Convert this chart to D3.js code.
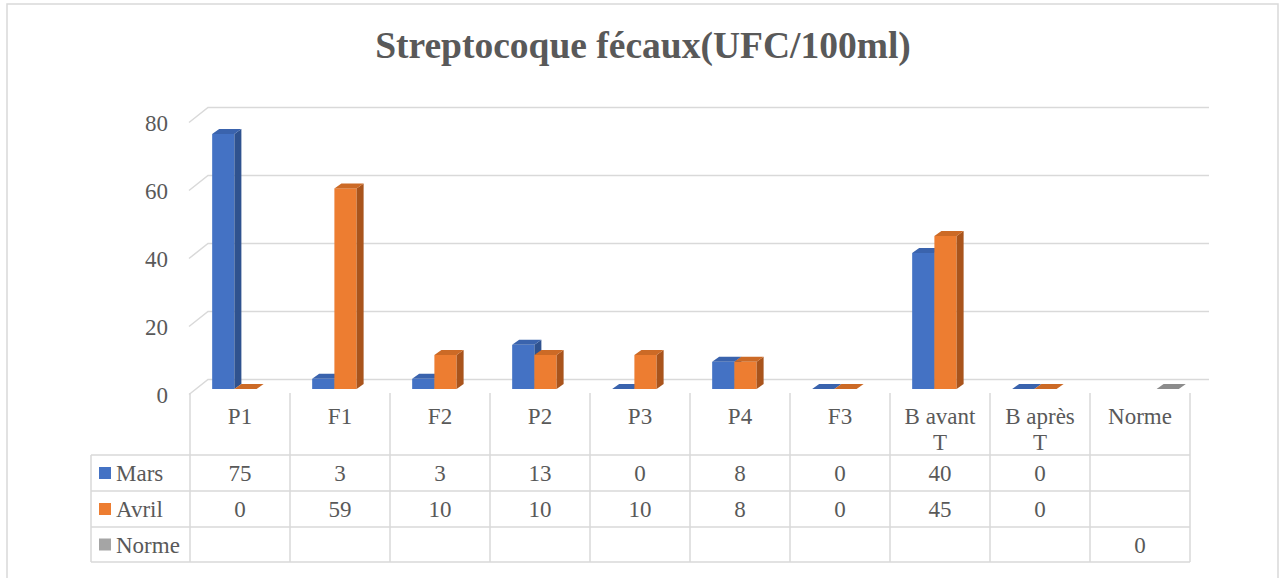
<!DOCTYPE html>
<html>
<head>
<meta charset="utf-8">
<script src="https://cdn.jsdelivr.net/npm/d3@7"></script>
<style>
  html, body { margin: 0; padding: 0; background: #fff; }
  svg { display: block; }
</style>
</head>
<body>
<svg id="chart" width="1280" height="578"></svg>
<script>
// Sampling points and monthly counts (UFC/100ml)
const categories = ["P1", "F1", "F2", "P2", "P3", "P4", "F3", "B avant T", "B après T", "Norme"];
const seriesNames = ["Mars", "Avril", "Norme"];
const mars  = [75, 3, 3, 13, 0, 8, 0, 40, 0, null];
const avril = [0, 59, 10, 10, 10, 8, 0, 45, 0, null];
const norme = [null, null, null, null, null, null, null, null, null, 0];
const yTicks = [0, 20, 40, 60, 80];

const seriesValues = [mars, avril, norme];
const faceColors = {
  Mars:  { front: "#4472C4", side: "#2F528F", top: "#3A63AD" },
  Avril: { front: "#ED7D31", side: "#A9541C", top: "#CC6A26" },
  Norme: { front: "#A5A5A5", side: "#7B7B7B", top: "#8C8C8C" }
};

const FONT = "'Times New Roman', Times, Tinos, FreeSerif, serif";
const svg = d3.select("#chart").style("font-family", FONT);
const ink = "#595959";
const grid = "#D9D9D9";
const labelSize = "23px";

// Chart frame
svg.append("rect")
  .attr("x", 7).attr("y", 4).attr("width", 1271).attr("height", 600)
  .attr("fill", "#fff").attr("stroke", grid).attr("stroke-width", 1.5);

// Title
svg.append("text")
  .attr("x", 643).attr("y", 58)
  .attr("text-anchor", "middle").attr("fill", ink)
  .style("font-family", FONT)
  .style("font-size", "37.5px").style("font-weight", "bold")
  .text("Streptocoque fécaux(UFC/100ml)");

// Scales: the value axis lives on the front plane, the wall is pushed back by a depth vector
const left = 190, right = 1190;
const x0 = d3.scaleBand().domain(categories).range([left, right]).padding(0);
const x1 = d3.scaleBand().domain(seriesNames).range([0, x0.bandwidth()])
  .paddingInner(0).paddingOuter(0.75);
const y = d3.scaleLinear().domain([0, 80]).range([394.5, 122.5]);
const wall = { dx: 19, dy: -15 };      // back wall offset
const barPlane = { dx: 5.5, dy: -5.5 }; // front face of bars
const barDepth = { dx: 7, dy: -5 };    // thickness of each bar

// Gridlines: diagonal on the side wall, then horizontal along the back wall
const gridG = svg.append("g");
yTicks.forEach(t => {
  const fy = y(t);
  gridG.append("polyline")
    .attr("points", [
      [left - 1, fy], [left - 1 + wall.dx, fy + wall.dy], [right + wall.dx, fy + wall.dy]
    ].map(p => p.join(",")).join(" "))
    .attr("fill", "none").attr("stroke", grid).attr("stroke-width", 1.5);
});

// Value axis labels
svg.append("g").selectAll("text").data(yTicks).join("text")
  .attr("x", 168).attr("y", d => y(d) + 8)
  .attr("text-anchor", "end")
  .attr("fill", ink).style("font-family", FONT)
  .style("font-size", labelSize)
  .text(d => d);

// 3-D bars
const barsG = svg.append("g");
const base = y(0) + barPlane.dy;
categories.forEach((cat, ci) => {
  seriesNames.forEach((s, si) => {
    const v = seriesValues[si][ci];
    if (v === null || v === undefined) return;
    const xa = x0(cat) + x1(s) + barPlane.dx;
    const w = x1.bandwidth();
    const yt = y(v) + barPlane.dy;
    const c = faceColors[s];
    const g = barsG.append("g");
    if (v > 0) {
      g.append("rect").attr("x", xa).attr("y", yt).attr("width", w).attr("height", base - yt)
        .attr("fill", c.front);
      g.append("polygon").attr("points", [
        [xa + w, yt], [xa + w + barDepth.dx, yt + barDepth.dy],
        [xa + w + barDepth.dx, base + barDepth.dy], [xa + w, base]
      ].map(p => p.join(",")).join(" ")).attr("fill", c.side);
    }
    g.append("polygon").attr("points", [
      [xa, yt], [xa + barDepth.dx, yt + barDepth.dy],
      [xa + w + barDepth.dx, yt + barDepth.dy], [xa + w, yt]
    ].map(p => p.join(",")).join(" ")).attr("fill", c.top);
  });
});

// Data table
const table = svg.append("g");
const headTop = 393, rowTops = [455, 491, 527], tableBottom = 562, legendLeft = 91;
const line = (x1_, y1_, x2_, y2_) => table.append("line")
  .attr("x1", x1_).attr("y1", y1_).attr("x2", x2_).attr("y2", y2_)
  .attr("stroke", grid).attr("stroke-width", 1.5);

rowTops.concat([tableBottom]).forEach(ry => line(legendLeft, ry, right, ry));
line(legendLeft, rowTops[0], legendLeft, tableBottom);
d3.range(categories.length + 1).forEach(i => {
  const xx = left + i * x0.bandwidth();
  line(xx, headTop, xx, tableBottom);
});

// Category header (wraps like the original cell text)
const headerLines = {"B avant T": ["B avant", "T"], "B après T": ["B après", "T"]};
categories.forEach(cat => {
  const lines = headerLines[cat] || [cat];
  const t = table.append("text")
    .attr("x", x0(cat) + x0.bandwidth() / 2).attr("y", 424)
    .attr("text-anchor", "middle").attr("fill", ink).style("font-family", FONT)
    .style("font-size", labelSize);
  lines.forEach((l, i) => t.append("tspan")
    .attr("x", x0(cat) + x0.bandwidth() / 2).attr("dy", i === 0 ? 0 : 26).text(l));
});

// Rows: legend key + values
seriesNames.forEach((s, si) => {
  const cy = (rowTops[si] + (rowTops[si + 1] || tableBottom)) / 2;
  table.append("rect").attr("x", 99).attr("y", cy - 6).attr("width", 12).attr("height", 12)
    .attr("fill", faceColors[s].front);
  table.append("text").attr("x", 116).attr("y", cy + 8)
    .attr("fill", ink).style("font-family", FONT)
    .style("font-size", labelSize).text(s);
  categories.forEach((cat, ci) => {
    const v = seriesValues[si][ci];
    if (v === null || v === undefined) return;
    table.append("text")
      .attr("x", x0(cat) + x0.bandwidth() / 2).attr("y", cy + 8)
      .attr("text-anchor", "middle")
      .attr("fill", ink).style("font-family", FONT)
      .style("font-size", labelSize).text(v);
  });
});
</script>
</body>
</html>
